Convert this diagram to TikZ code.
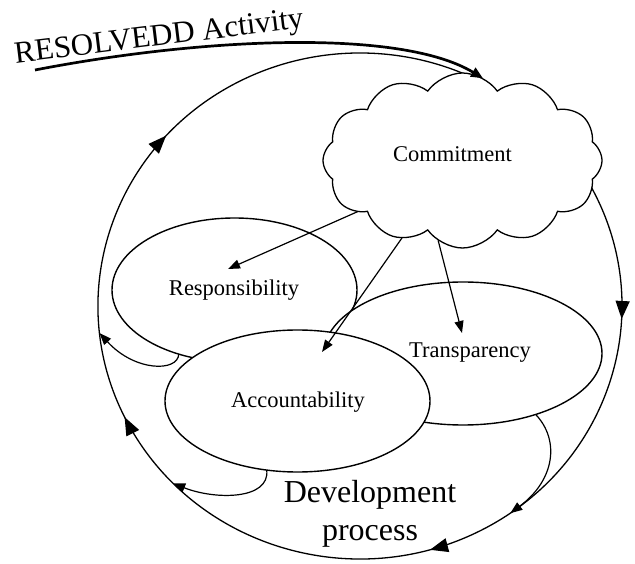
\documentclass[tikz,border=0pt]{standalone}
\usepackage{fontspec}
\setmainfont{Liberation Serif}
\usetikzlibrary{shapes.symbols,shapes.geometric,arrows.meta,decorations.markings}
\begin{document}
\begin{tikzpicture}[x=1pt,y=1pt,
  every node/.style={inner sep=0pt, outer sep=0pt},
  oval/.style={ellipse, draw, line width=1.4pt, fill=white},
  lbl/.style={font=\fontsize{22.5}{27}\selectfont, anchor=base},
  small/.style={-{Triangle[length=12pt,width=9pt]}, line width=1.2pt},
  bigtri/.tip={Triangle[length=18pt,width=14pt]},
]
\useasboundingbox (0,0) rectangle (635,563);

% big cycle
\draw[line width=1.3pt, postaction={decorate}, decoration={markings,
  mark=at position 0.094 with {\arrow{bigtri}},
  mark=at position 0.314 with {\arrow{bigtri}},
  mark=at position 0.561 with {\arrow{bigtri}},
  mark=at position 0.769 with {\arrow{bigtri}}}]
  (591.3,375.8) arc[start angle=28, end angle=-296.3, x radius=262, y radius=253];

% cloud
\node[cloud, draw, line width=1.3pt, fill=white, cloud puffs=12, cloud puff arc=110,
  aspect=1.6, minimum width=279pt, minimum height=175pt] (cm) at (462.5,402.5) {};

% ellipses
\node[oval, minimum width=245pt, minimum height=144pt] (resp) at (234.5,273) {};
\node[oval, minimum width=278pt, minimum height=143pt] (trans) at (463,209.5) {};
\node[oval, minimum width=265pt, minimum height=142pt] (acc) at (297.5,162) {};

% labels
\node[lbl] (tcom) at (452.5,401) {Commitment};
\node[lbl] (tresp) at (234,267) {Responsibility};
\node[lbl] (ttrans) at (470,205) {Transparency};
\node[lbl] (tacc) at (298,156) {Accountability};
\node[font=\fontsize{31}{36}\selectfont, anchor=base, rotate=7] (title) at (160,517.5) {RESOLVEDD Activity};
\node[font=\fontsize{32}{38}\selectfont, align=center, anchor=north] (dev) at (370,83) {Development\\process};

% arrows from commitment
\coordinate (rtip) at (228,294);
\coordinate (atip) at (322,211);
\coordinate (ttip) at (462,230);
\draw[small] (cm.206) -- (rtip);
\draw[small] (cm.232) -- (atip);
\draw[small] (cm.253) -- (ttip);

% loops back to the cycle
\coordinate (cR) at (99.5,230);
\coordinate (cA) at (173.2,79.6);
\coordinate (cT) at (510.3,49.8);
\draw[small] (resp.229.4) .. controls (178,191) and (135,191) .. (cR);
\draw[small] (acc.246.2) .. controls (270,63) and (215,63) .. (cA);
\draw[small] (trans.320.7) .. controls (560,123) and (555,83) .. (cT);

% title arrow
\coordinate (ts) at (35,493);
\draw[line width=2.7pt, -{Triangle[length=12pt,width=10pt]}] (ts) .. controls (200,525) and (400,535) .. (cm.76);
\end{tikzpicture}
\end{document}
